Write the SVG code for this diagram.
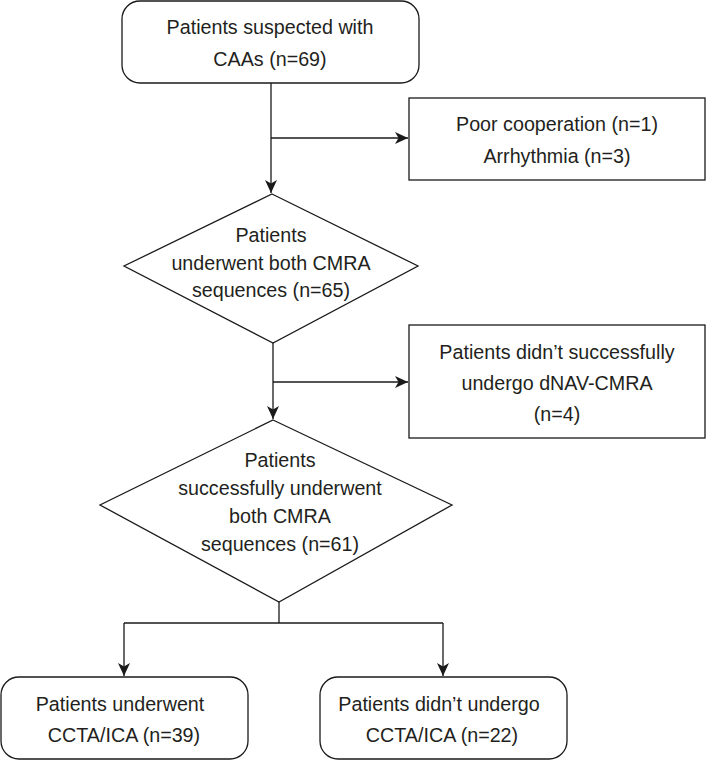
<svg xmlns="http://www.w3.org/2000/svg" width="706" height="761" viewBox="0 0 706 761">
<defs>
<marker id="arr" markerUnits="userSpaceOnUse" markerWidth="13" markerHeight="12" refX="13" refY="6" orient="auto">
<path d="M0,0 L13,6 L0,12 L3.5,6 z" fill="#1a1a1a"/>
</marker>
<style>
.box{fill:#fff;stroke:#1a1a1a;stroke-width:1.3}
.t{font-family:"Liberation Sans",Arial,Helvetica,sans-serif;font-size:19.7px;fill:#231f20;text-anchor:middle}
.c{fill:none;stroke:#1a1a1a;stroke-width:1.3}
</style>
</defs>
<rect width="706" height="761" fill="#fff"/>
<g id="connectors">
<path class="c" d="M271,83 V193" marker-end="url(#arr)"/>
<path class="c" d="M271,138 H408" marker-end="url(#arr)"/>
<path class="c" d="M273,343 V419" marker-end="url(#arr)"/>
<path class="c" d="M273,382 H408" marker-end="url(#arr)"/>
<path class="c" d="M279,602 V623"/>
<path class="c" d="M124,623 H443"/>
<path class="c" d="M124,623 V676" marker-end="url(#arr)"/>
<path class="c" d="M443,623 V676" marker-end="url(#arr)"/>
</g>
<g id="start">
<rect class="box" x="122" y="1" width="297" height="82" rx="18"/>
<text class="t" x="270" y="34">Patients suspected with</text>
<text class="t" x="270" y="66">CAAs (n=69)</text>
</g>
<g id="excluded1">
<rect class="box" x="409" y="98" width="296" height="82"/>
<text class="t" x="557" y="131">Poor cooperation (n=1)</text>
<text class="t" x="557" y="163">Arrhythmia (n=3)</text>
</g>
<g id="decision1">
<polygon class="box" points="272,194 418,266 273,343 124,266"/>
<text class="t" x="271" y="242">Patients</text>
<text class="t" x="271" y="270">underwent both CMRA</text>
<text class="t" x="271" y="297">sequences (n=65)</text>
</g>
<g id="excluded2">
<rect class="box" x="409" y="325" width="296" height="113"/>
<text class="t" x="557" y="359">Patients didn’t successfully</text>
<text class="t" x="557" y="390">undergo dNAV-CMRA</text>
<text class="t" x="557" y="421">(n=4)</text>
</g>
<g id="decision2">
<polygon class="box" points="273,420 452,505 279,602 100,505"/>
<text class="t" x="280" y="467">Patients</text>
<text class="t" x="280" y="495">successfully underwent</text>
<text class="t" x="280" y="523">both CMRA</text>
<text class="t" x="280" y="551">sequences (n=61)</text>
</g>
<g id="underwent">
<rect class="box" x="1" y="677" width="247" height="82" rx="18"/>
<text class="t" x="120" y="711">Patients underwent</text>
<text class="t" x="124" y="742">CCTA/ICA (n=39)</text>
</g>
<g id="notundergo">
<rect class="box" x="320" y="677" width="247" height="82" rx="18"/>
<text class="t" x="439" y="711">Patients didn’t undergo</text>
<text class="t" x="442" y="742">CCTA/ICA (n=22)</text>
</g>
</svg>
